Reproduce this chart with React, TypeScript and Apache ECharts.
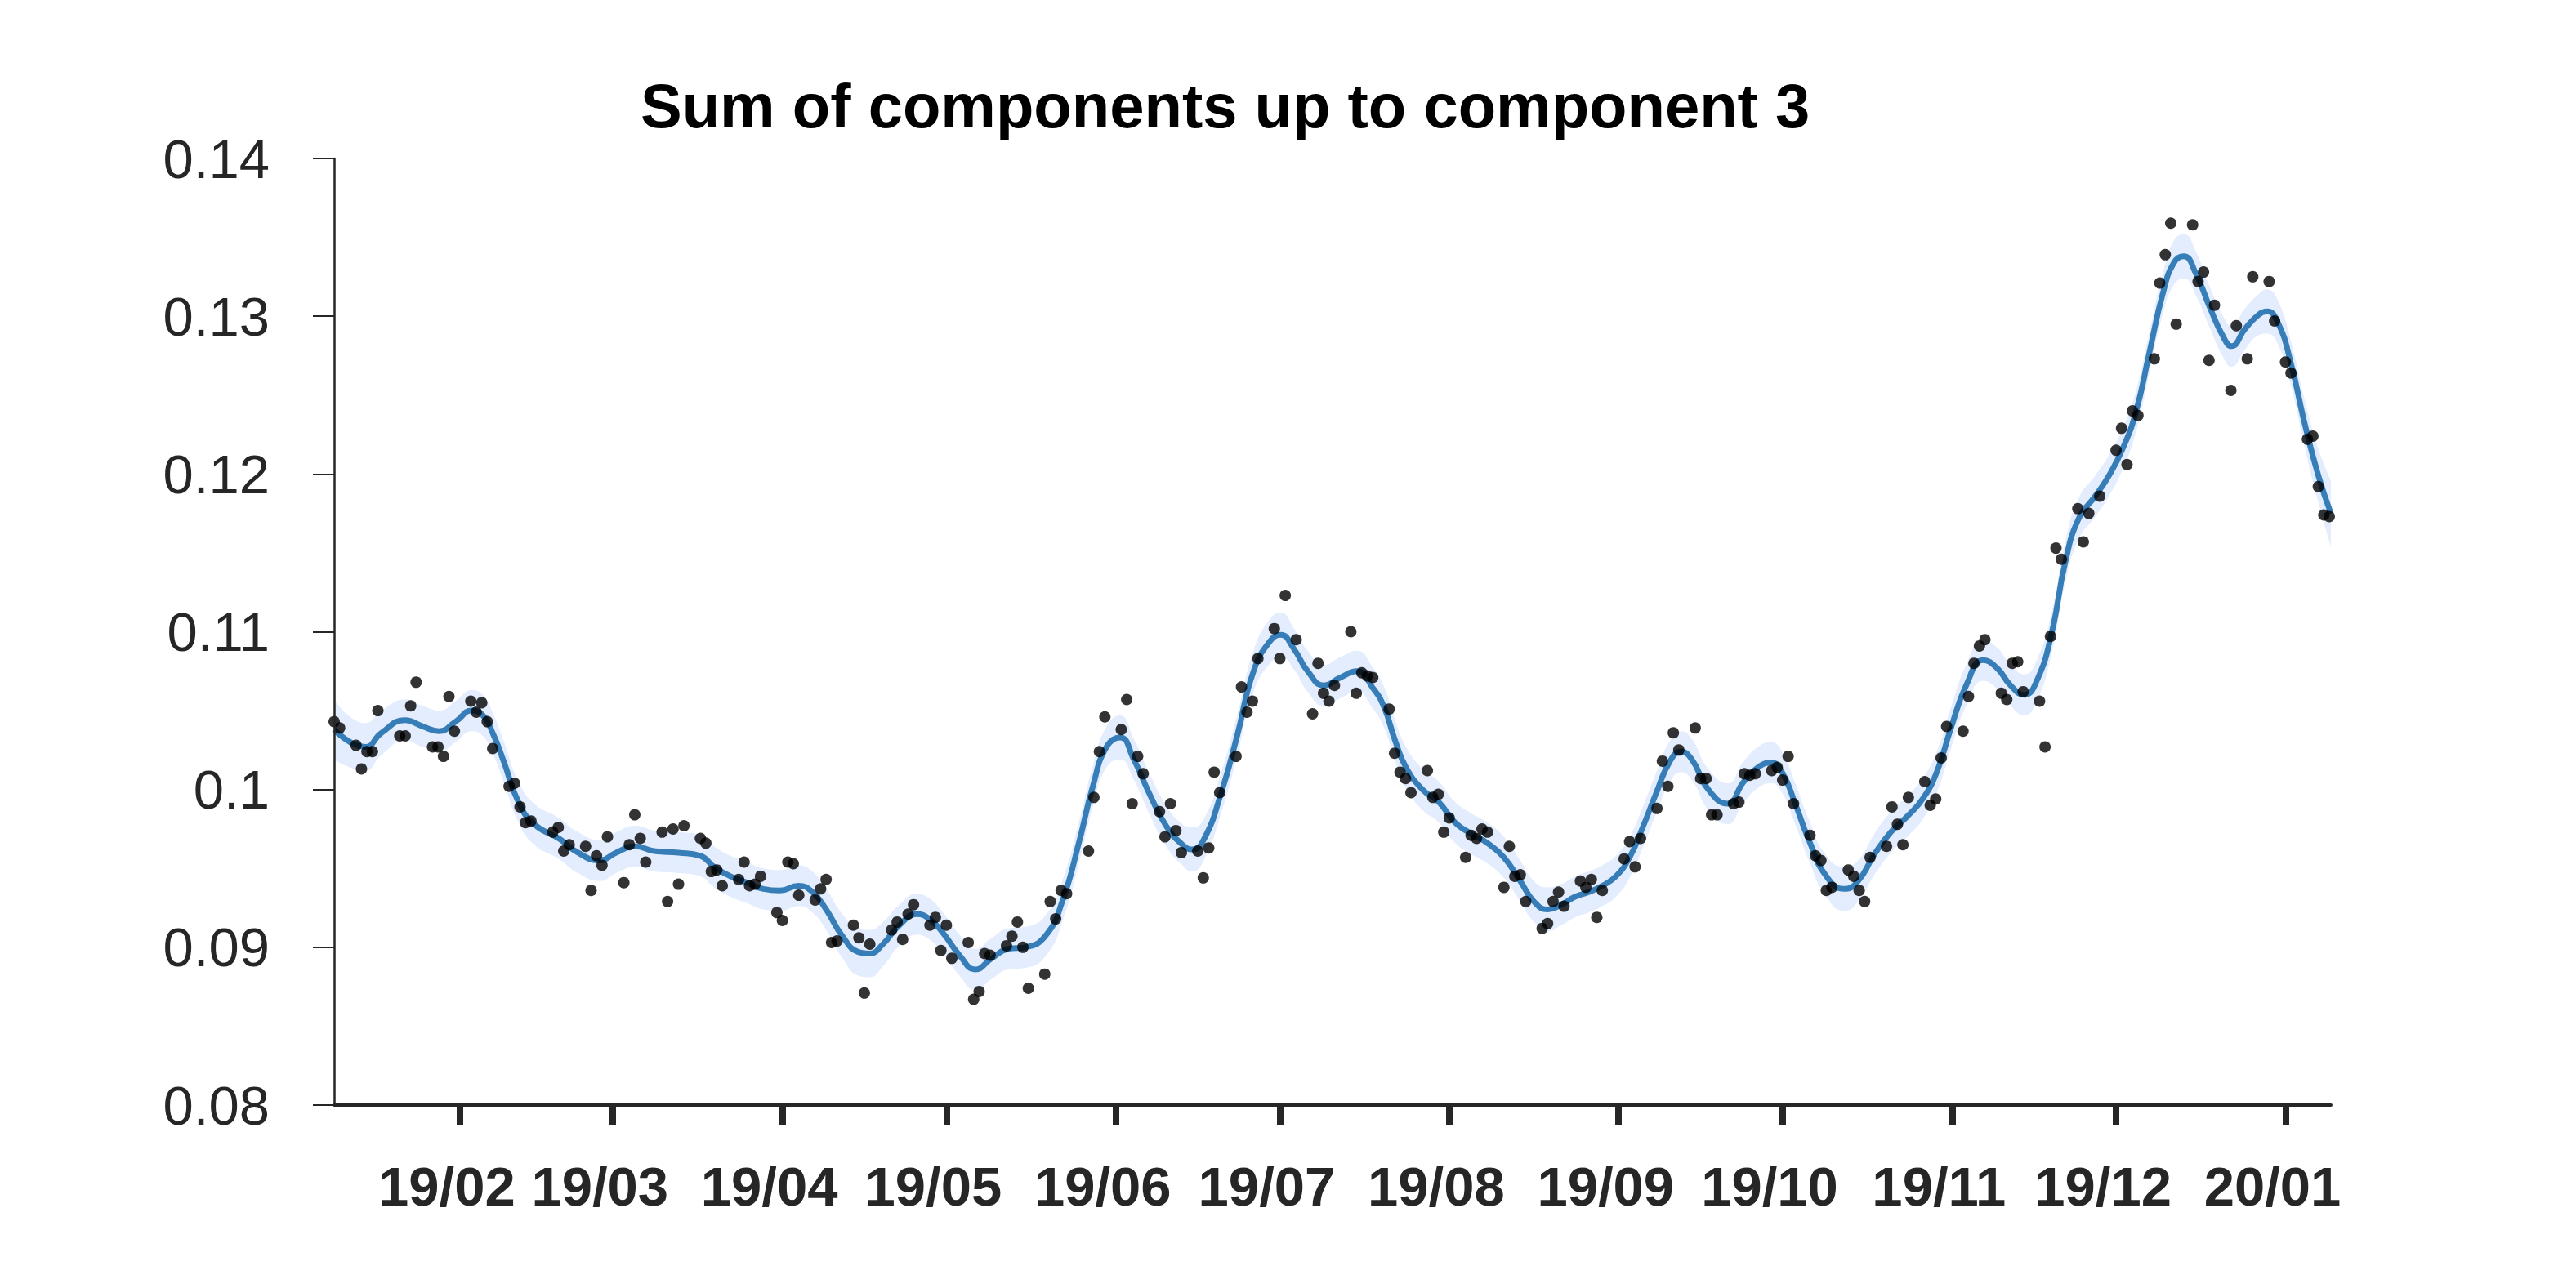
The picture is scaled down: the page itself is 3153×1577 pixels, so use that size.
import { useEffect, useRef } from "react";
import * as echarts from "echarts";

// Day numbers are counted from 2019-01-01 (day 0).
const ORIGIN_UTC = Date.UTC(2019, 0, 1);
const DAY_MS = 86400000;

const titleText = "Sum of components up to component 3";

const dotDay = [
  8, 9, 12, 13, 14, 15, 16, 20, 21, 22, 23, 26, 27, 28, 29, 30, 33, 34, 35, 36, 37, 40, 41, 42, 43, 44,
  48, 49, 50, 51, 54, 55, 56, 57, 58, 61, 62, 63, 64, 65, 68, 69, 70, 71, 72, 75, 76, 77, 78, 79,
  82, 83, 84, 85, 86, 89, 90, 91, 92, 93, 96, 97, 98, 99, 100, 103, 104, 105, 106, 110, 111, 112, 113, 114,
  117, 118, 119, 120, 121, 124, 125, 126, 127, 128, 131, 132, 133, 134, 135, 138, 139, 140, 141, 142,
  146, 147, 148, 149, 152, 153, 154, 155, 156, 159, 160, 161, 162, 163, 166, 167, 168, 169, 170,
  173, 174, 175, 176, 177, 180, 181, 182, 184, 187, 188, 189, 190, 191, 194, 195, 196, 197, 198,
  201, 202, 203, 204, 205, 208, 209, 210, 211, 212, 215, 216, 217, 218, 219, 222, 223, 224, 225, 226,
  229, 230, 231, 232, 233, 236, 237, 238, 239, 240, 244, 245, 246, 247, 250, 251, 252, 253, 254,
  257, 258, 259, 260, 261, 264, 265, 266, 267, 268, 271, 272, 273, 274, 275, 278, 279, 280, 281, 282,
  285, 286, 287, 288, 289, 292, 293, 294, 295, 296, 299, 300, 301, 302, 303, 306, 307, 308, 309, 310,
  313, 314, 315, 316, 317, 320, 321, 322, 323, 324, 327, 328, 329, 331, 334, 335, 336, 337, 338,
  341, 342, 343, 344, 345, 348, 349, 350, 351, 352, 355, 356, 358, 359, 362, 363, 365, 366,
  369, 370, 371, 372, 373,
];

const dotValue = [
  0.1043, 0.1039, 0.1028, 0.1013, 0.1024, 0.1024, 0.105, 0.1034, 0.1034, 0.1053, 0.1068, 0.1027, 0.1027, 0.1021, 0.1059, 0.1037, 0.1056, 0.1049, 0.1055, 0.1043, 0.1026, 0.1002, 0.1004, 0.0989, 0.0979, 0.098,
  0.0973, 0.0976, 0.0961, 0.0965, 0.0964, 0.0936, 0.0958, 0.0952, 0.097, 0.0941, 0.0965, 0.0984, 0.0969, 0.0954, 0.0973, 0.0929, 0.0975, 0.094, 0.0977, 0.0969, 0.0966, 0.0948, 0.0949, 0.0939,
  0.0943, 0.0954, 0.0939, 0.094, 0.0945, 0.0922, 0.0917, 0.0954, 0.0953, 0.0933, 0.093, 0.0937, 0.0943, 0.0903, 0.0904, 0.0914, 0.0906, 0.0871, 0.0902, 0.0911, 0.0916, 0.0905, 0.0921, 0.0927,
  0.0914, 0.0919, 0.0898, 0.0914, 0.0893, 0.0903, 0.0867, 0.0872, 0.0896, 0.0895, 0.0901, 0.0907, 0.0916, 0.09, 0.0874, 0.0883, 0.0929, 0.0918, 0.0936, 0.0934,
  0.0961, 0.0995, 0.1024, 0.1046, 0.1038, 0.1057, 0.0991, 0.1021, 0.101, 0.0986, 0.097, 0.0991, 0.0974, 0.096, 0.0961, 0.0944, 0.0963, 0.1011, 0.0998,
  0.1021, 0.1065, 0.1049, 0.1056, 0.1083, 0.1102, 0.1083, 0.1123, 0.1095, 0.1048, 0.108, 0.1061, 0.1056, 0.1066, 0.11, 0.1061, 0.1074, 0.1072, 0.1071,
  0.1051, 0.1023, 0.1011, 0.1007, 0.0998, 0.1012, 0.0995, 0.0997, 0.0973, 0.0982, 0.0957, 0.0971, 0.0969, 0.0975, 0.0973, 0.0938, 0.0964, 0.0945, 0.0946, 0.0929,
  0.0912, 0.0915, 0.0929, 0.0935, 0.0926, 0.0942, 0.0938, 0.0943, 0.0919, 0.0936, 0.0956, 0.0967, 0.0951, 0.0969, 0.0988, 0.1018, 0.1002, 0.1036, 0.1025,
  0.1039, 0.1007, 0.1007, 0.0984, 0.0984, 0.0991, 0.0992, 0.101, 0.1009, 0.101, 0.1012, 0.1014, 0.1006, 0.1021, 0.0991, 0.0971, 0.0958, 0.0955, 0.0936, 0.0938,
  0.0949, 0.0945, 0.0936, 0.0929, 0.0957, 0.0964, 0.0989, 0.0978, 0.0965, 0.0995, 0.1005, 0.099, 0.0994, 0.102, 0.104, 0.1037, 0.1059, 0.108, 0.1091, 0.1095,
  0.1061, 0.1057, 0.108, 0.1081, 0.1062, 0.1056, 0.1027, 0.1097, 0.1153, 0.1146, 0.1178, 0.1157, 0.1175, 0.1186, 0.1215, 0.1229, 0.1206, 0.124, 0.1237,
  0.1273, 0.1321, 0.1339, 0.1359, 0.1295, 0.1358, 0.1322, 0.1328, 0.1272, 0.1307, 0.1253, 0.1294, 0.1273, 0.1325, 0.1322, 0.1297, 0.1271, 0.1264,
  0.1222, 0.1224, 0.1192, 0.1174, 0.1173,
];

const curveDay = [
  8, 13.7, 16.7, 21, 24.2, 27.2, 30.2, 33.2, 35.2, 37.1, 39.1, 41.6, 44.6, 49.1, 52.6, 56.6, 59.6, 63.1, 66.5, 71,
  75, 77.5, 80.5, 83.5, 86.5, 89.5, 93, 95.5, 98, 101, 103.9, 105.9, 108.4, 111.4, 114.6, 116.9, 119.4, 122.4, 125.3, 128.3,
  131.3, 134.5, 138.3, 141.3, 144.3, 146.8, 149.3, 151.8, 154.3, 157.2, 160.2, 163.2, 165, 167.2, 170.2, 173.2, 176.2, 179.2, 181.2, 183.6,
  186.1, 189.1, 192.1, 195.1, 198.1, 200.1, 202.1, 204.1, 207.1, 210.1, 213.1, 216, 219, 222, 225, 227.5, 230, 232.5, 235, 237.5,
  240, 242.5, 245, 247.4, 249.9, 252.4, 254.4, 256.4, 259.4, 262.9, 265.9, 268.9, 270.9, 272.9, 275.3, 277.8, 280.8, 284.3, 286.8, 289.8,
  292.8, 295.8, 298.8, 301.3, 303.7, 306.7, 309.7, 312.2, 314.7, 317.2, 319.5, 322.2, 324.7, 327.2, 330.2, 332.7, 335.2, 337.6, 340.1, 342.6,
  344.6, 346.4, 348.6, 351.1, 353.6, 355.1, 357.6, 360.1, 361.6, 363.6, 366, 368.5, 371, 373.3,
];

const curveValue = [
  0.1038, 0.1027, 0.1036, 0.1044, 0.104, 0.1037, 0.1043, 0.105, 0.1047, 0.1035, 0.1017, 0.0993, 0.0978, 0.0969, 0.096, 0.0955, 0.096, 0.0964, 0.0961, 0.096,
  0.0958, 0.0951, 0.0945, 0.0941, 0.0937, 0.0936, 0.0939, 0.0935, 0.0924, 0.0907, 0.0897, 0.0896, 0.0902, 0.0914, 0.0921, 0.0918, 0.0909, 0.0895, 0.0886, 0.0893,
  0.0899, 0.09, 0.0908, 0.093, 0.0967, 0.1002, 0.1027, 0.1033, 0.1019, 0.0997, 0.0977, 0.0965, 0.0962, 0.0969, 0.0997, 0.1034, 0.1075, 0.1094, 0.1098, 0.1089,
  0.1075, 0.1066, 0.1071, 0.1075, 0.1064, 0.1052, 0.1031, 0.1014, 0.1, 0.0992, 0.0979, 0.0972, 0.0966, 0.0957, 0.0942, 0.0929, 0.0924, 0.0927, 0.0932, 0.0935,
  0.0939, 0.0945, 0.0957, 0.0976, 0.0998, 0.1018, 0.1024, 0.1019, 0.1, 0.0991, 0.1005, 0.1015, 0.1017, 0.1011, 0.0991, 0.0968, 0.0946, 0.0937, 0.0942, 0.0959,
  0.0973, 0.0983, 0.0995, 0.1012, 0.1038, 0.1067, 0.1082, 0.1077, 0.1066, 0.106, 0.1069, 0.1099, 0.1144, 0.1172, 0.1186, 0.1199, 0.1216, 0.1239, 0.1277, 0.1315,
  0.1334, 0.1338, 0.1327, 0.1306, 0.1287, 0.1281, 0.1292, 0.1301, 0.1303, 0.1296, 0.127, 0.1232, 0.1199, 0.1175,
];

// Half width of the shaded band at each curve knot.
const bandHalfWidth = [
  0.0019, 0.0015, 0.0014, 0.0013, 0.0013, 0.0013, 0.0013, 0.0013, 0.0013, 0.0013, 0.0013, 0.0013, 0.0013, 0.0013, 0.0013, 0.0013, 0.0013, 0.0013, 0.0013, 0.0013,
  0.0013, 0.0013, 0.0013, 0.0013, 0.0013, 0.0013, 0.0013, 0.0013, 0.0013, 0.0014, 0.0015, 0.0015, 0.0014, 0.0013, 0.0013, 0.0013, 0.0013, 0.0013, 0.0013, 0.0013,
  0.0013, 0.0013, 0.0013, 0.0013, 0.0013, 0.0013, 0.0013, 0.0014, 0.0013, 0.0013, 0.0013, 0.0013, 0.0014, 0.0013, 0.0013, 0.0013, 0.0013, 0.0014, 0.0014, 0.0013,
  0.0013, 0.0013, 0.0013, 0.0013, 0.0013, 0.0013, 0.0013, 0.0013, 0.0013, 0.0013, 0.0013, 0.0013, 0.0013, 0.0013, 0.0013, 0.0013, 0.0014, 0.0013, 0.0013, 0.0013,
  0.0013, 0.0013, 0.0013, 0.0013, 0.0013, 0.0013, 0.0013, 0.0013, 0.0013, 0.0013, 0.0013, 0.0013, 0.0013, 0.0013, 0.0013, 0.0013, 0.0013, 0.0014, 0.0013, 0.0013,
  0.0013, 0.0013, 0.0013, 0.0013, 0.0013, 0.0013, 0.0013, 0.0013, 0.0013, 0.0013, 0.0013, 0.0013, 0.0013, 0.0013, 0.0013, 0.0013, 0.0013, 0.0013, 0.0013, 0.0013,
  0.0014, 0.0014, 0.0014, 0.0013, 0.0013, 0.0013, 0.0013, 0.0013, 0.0014, 0.0014, 0.0014, 0.0015, 0.0017, 0.0021,
];

const xTickDates = [
  "2019-02-01", "2019-03-01", "2019-04-01", "2019-05-01", "2019-06-01", "2019-07-01",
  "2019-08-01", "2019-09-01", "2019-10-01", "2019-11-01", "2019-12-01", "2020-01-01",
];

const xStartDay = 8;
const xEndDay = 373.3;
const yMin = 0.08;
const yMax = 0.14;
const yStep = 0.01;

const dayToTime = (d: number) => ORIGIN_UTC + d * DAY_MS;
const pad2 = (n: number) => String(n).padStart(2, "0");
const FONT = "Liberation Sans, Arial, Helvetica, sans-serif";
const AXIS_COLOR = "#262626";

export default function App() {
  const ref = useRef<HTMLDivElement | null>(null);

  useEffect(() => {
    if (!ref.current) return;
    const chart = echarts.init(ref.current, undefined, { renderer: "svg" });

    const tickTimes = xTickDates.map((s) => Date.parse(s + "T00:00:00Z"));
    const dots = dotDay.map((d, i) => [dayToTime(d), dotValue[i]]);
    const curve = curveDay.map((d, i) => [dayToTime(d), curveValue[i]]);
    const lower = curveDay.map((d, i) => [dayToTime(d), curveValue[i] - bandHalfWidth[i]]);
    const width = curveDay.map((d, i) => [dayToTime(d), 2 * bandHalfWidth[i]]);

    chart.setOption({
      animation: false,
      useUTC: true,
      backgroundColor: "#ffffff",
      title: {
        text: titleText,
        left: 784,
        top: 91,
        padding: 0,
        textStyle: {
          fontFamily: FONT,
          fontSize: 76,
          lineHeight: 77,
          fontWeight: "bold",
          color: "#000000",
        },
      },
      grid: { left: 409, right: 300, top: 194, bottom: 224, containLabel: false },
      xAxis: [
        {
          type: "value",
          min: dayToTime(xStartDay),
          max: dayToTime(xEndDay),
          z: 5,
          splitLine: { show: false },
          axisLine: { show: true, lineStyle: { color: AXIS_COLOR, width: 4 } },
          axisTick: {
            show: true,
            inside: false,
            length: 25,
            customValues: tickTimes,
            lineStyle: { color: AXIS_COLOR, width: 8 },
          },
          axisLabel: {
            show: true,
            customValues: tickTimes,
            showMinLabel: true,
            showMaxLabel: true,
            margin: 66,
            fontFamily: FONT,
            fontSize: 67,
            lineHeight: 67,
            fontWeight: "bold",
            color: AXIS_COLOR,
            padding: [0, 16, 0, -16],
            formatter: (val: number) => {
              const d = new Date(val);
              return pad2(d.getUTCFullYear() % 100) + "/" + pad2(d.getUTCMonth() + 1);
            },
          },
        },
        {
          // hidden time axis carrying the stacked confidence band
          type: "time",
          show: false,
          min: dayToTime(xStartDay),
          max: dayToTime(xEndDay),
          splitLine: { show: false },
        },
      ],
      yAxis: {
        type: "value",
        min: yMin,
        max: yMax,
        interval: yStep,
        z: 5,
        splitLine: { show: false },
        axisLine: { show: true, lineStyle: { color: AXIS_COLOR, width: 2.5 } },
        axisTick: { show: true, inside: false, length: 26, lineStyle: { color: AXIS_COLOR, width: 2 } },
        axisLabel: {
          margin: 79,
          fontFamily: FONT,
          fontSize: 67,
          color: AXIS_COLOR,
        },
      },
      series: [
        {
          type: "line",
          xAxisIndex: 1,
          data: lower,
          stack: "band",
          smooth: true,
          showSymbol: false,
          silent: true,
          lineStyle: { opacity: 0 },
          z: 1,
        },
        {
          type: "line",
          xAxisIndex: 1,
          data: width,
          stack: "band",
          smooth: true,
          showSymbol: false,
          silent: true,
          lineStyle: { opacity: 0 },
          areaStyle: { color: "#e4edfd", opacity: 1 },
          z: 1,
        },
        {
          type: "line",
          data: curve,
          smooth: true,
          showSymbol: false,
          lineStyle: { color: "#377eb8", width: 7 },
          z: 2,
        },
        {
          type: "scatter",
          data: dots,
          symbolSize: 14,
          itemStyle: { color: "#000000" },
          z: 3,
        },
      ],
    });

    return () => {
      chart.dispose();
    };
  }, []);

  return (
    <div
      ref={ref}
      style={{ position: "fixed", left: 0, top: 0, width: 3153, height: 1577, background: "#fff" }}
    />
  );
}
